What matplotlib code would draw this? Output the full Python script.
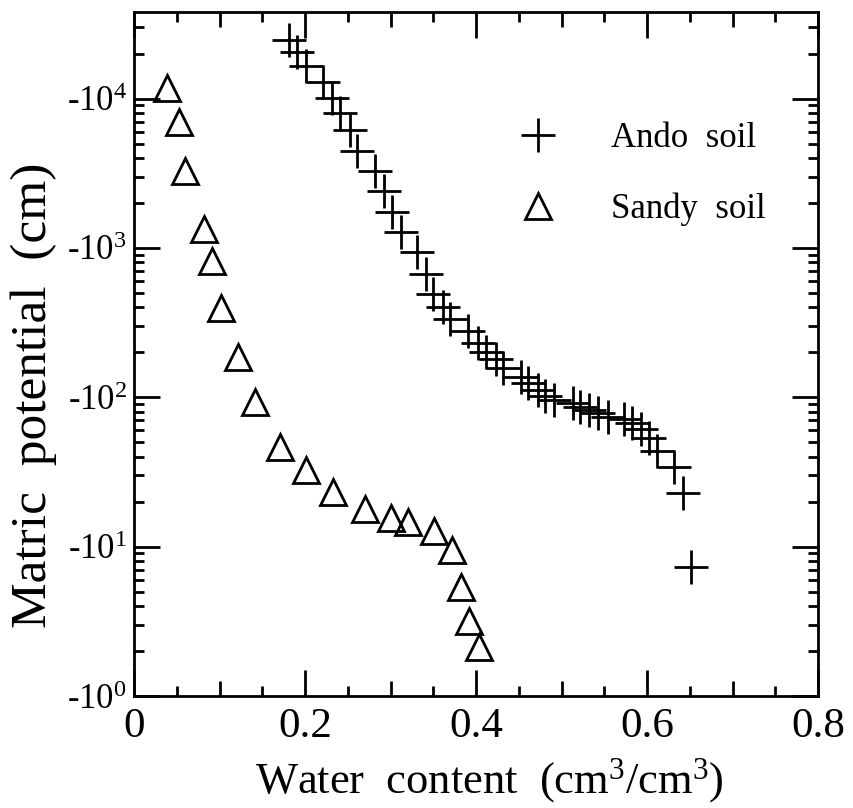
import math
import matplotlib
matplotlib.use("Agg")
import matplotlib.pyplot as plt
from matplotlib.ticker import FixedLocator, FuncFormatter, LogLocator, NullFormatter

plt.rcParams['font.family'] = ['Liberation Serif', 'DejaVu Serif']
plt.rcParams['mathtext.fontset'] = 'custom'
plt.rcParams['mathtext.rm'] = 'Liberation Serif'
plt.rcParams['mathtext.it'] = 'Liberation Serif:italic'

# water content (cm3/cm3) and |matric potential| (cm)
theta_ando = [0.181, 0.191, 0.201, 0.221, 0.231, 0.241, 0.252, 0.261, 0.282, 0.292,
              0.302, 0.312, 0.331, 0.341, 0.350, 0.361, 0.370, 0.391, 0.402, 0.411,
              0.423, 0.432, 0.452, 0.461, 0.472, 0.481, 0.491, 0.513, 0.522, 0.532,
              0.542, 0.554, 0.573, 0.582, 0.593, 0.602, 0.612, 0.631, 0.642, 0.651]
psi_ando = [24800, 20600, 16600, 13000, 10100, 8000, 6200, 4470, 3280, 2410,
            1750, 1280, 943, 671, 493, 403, 335, 279, 231, 201,
            181, 157, 137, 125, 112, 102, 96, 92, 86, 82,
            79, 74, 72, 67, 61, 53, 44, 34, 22.9, 7.3]

theta_sandy = [0.039, 0.052, 0.060, 0.082, 0.091, 0.102, 0.122, 0.142, 0.171, 0.201,
               0.233, 0.270, 0.300, 0.320, 0.351, 0.372, 0.382, 0.392, 0.403]
psi_sandy = [11800, 7000, 3280, 1340, 820, 398, 187, 93, 46.5, 32.7,
             23.2, 17.9, 15.6, 14.6, 12.7, 9.5, 5.4, 3.2, 2.13]

x_major = [0, 0.2, 0.4, 0.6, 0.8]
x_mid = [0.1, 0.3, 0.5, 0.7]
x_minor = [0.05, 0.15, 0.25, 0.35, 0.45, 0.55, 0.65, 0.75]

fig = plt.figure(figsize=(8.54, 8.08), dpi=100)
ax = fig.add_axes([0.157, 0.1386, 0.801, 0.8465])

ax.plot(theta_ando, psi_ando, ls='none', marker='+', ms=24, mew=2, color='black',
        label='Ando  soil')
ax.plot(theta_sandy, psi_sandy, ls='none', marker='^', ms=19, mew=2, mfc='none',
        mec='black', label='Sandy  soil')

ax.set_yscale('log')
ax.set_xlim(0, 0.8)
ax.set_ylim(1, 3.8e4)

ax.xaxis.set_major_locator(FixedLocator(x_major))
ax.xaxis.set_minor_locator(FixedLocator(x_minor))
ax.xaxis.set_major_formatter(FuncFormatter(lambda v, p: '0' if v == 0 else '%.1f' % v))

ax.yaxis.set_major_locator(LogLocator(base=10, numticks=10))
ax.yaxis.set_minor_locator(LogLocator(base=10, subs=range(2, 10), numticks=20))
ax.yaxis.set_minor_formatter(NullFormatter())
ax.yaxis.set_major_formatter(FuncFormatter(
    lambda v, p: r'-$\mathregular{10^{%d}}$' % round(math.log10(v))))

ax.tick_params(which='both', direction='in', top=True, right=True, width=2)
ax.tick_params(which='major', length=19)
ax.tick_params(which='minor', length=7)
ax.tick_params(axis='x', which='major', labelsize=31, pad=8)
ax.tick_params(axis='y', which='major', labelsize=25, pad=5)

# medium ticks at 0.1, 0.3, ...
for side in ('bottom', 'top'):
    sec = ax.secondary_xaxis(side)
    sec.set_xticks(x_mid)
    sec.tick_params(direction='in', length=11, width=2, labelbottom=False, labeltop=False)
    sec.spines[side].set_visible(False)

for s in ax.spines.values():
    s.set_linewidth(2)

ax.set_xlabel(r'Water  content  (cm$^{3}$/cm$^{3}$)', fontsize=32, labelpad=0)
ax.xaxis.set_label_coords(0.52, -0.088)
ax.set_ylabel('Matric  potential  (cm)', fontsize=37)
ax.yaxis.set_label_coords(-0.112, 0.44)

ax.legend(loc='upper left', bbox_to_anchor=(0.52, 0.86), frameon=False, fontsize=25,
          handletextpad=1.1, labelspacing=1.1, borderaxespad=0)

fig.savefig('out.png', dpi=100)
